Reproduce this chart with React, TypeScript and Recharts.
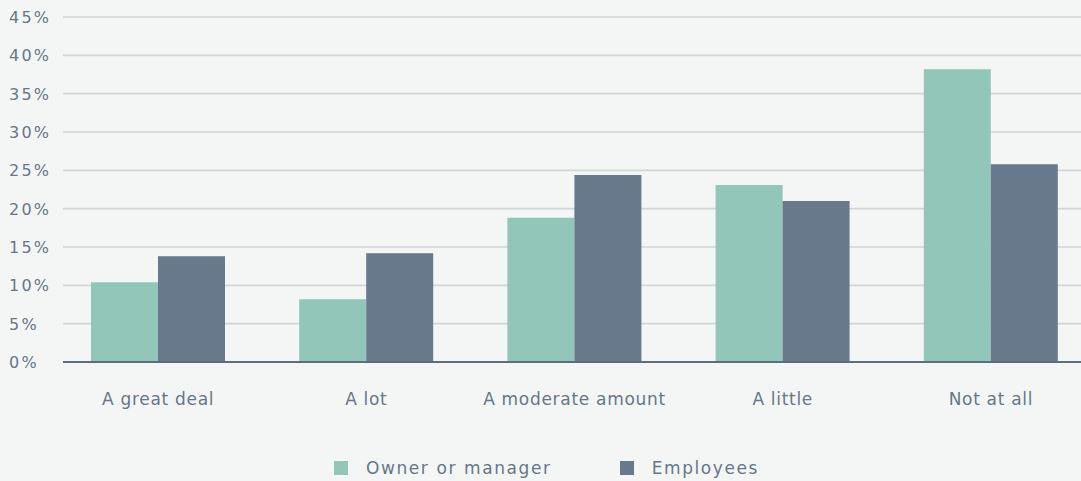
import React from "react";
import {
  BarChart,
  Bar,
  XAxis,
  YAxis,
  CartesianGrid,
  Legend,
} from "recharts";

const categories = [
  "A great deal",
  "A lot",
  "A moderate amount",
  "A little",
  "Not at all",
];
const ownerValues = [10.4, 8.2, 18.8, 23.1, 38.2];
const employeeValues = [13.8, 14.2, 24.4, 21.0, 25.8];
const yTicks = [0, 5, 10, 15, 20, 25, 30, 35, 40, 45];

const data = categories.map((name, i) => ({
  name,
  owner: ownerValues[i],
  employees: employeeValues[i],
}));

const FONT = "'DejaVu Sans', 'Noto Sans', sans-serif";
const TEXT = "#667789";
const GREEN = "#92c6b8";
const SLATE = "#67798a";

const YTick = (props: any) => {
  const { y, payload } = props;
  return (
    <text
      x={9}
      y={y + 6}
      textAnchor="start"
      fill={TEXT}
      fontFamily={FONT}
      fontSize={16}
      letterSpacing={2.2}>
      {payload.value}%
    </text>
  );
};

const XTick = (props: any) => {
  const { x, y, payload } = props;
  return (
    <text
      x={x}
      y={y + 41}
      textAnchor="middle"
      fill={TEXT}
      fontFamily={FONT}
      fontSize={17}
      letterSpacing={0.7}>
      {payload.value}
    </text>
  );
};

const LegendBox = () => {
  const items = [
    { label: "Owner or manager", color: GREEN },
    { label: "Employees", color: SLATE },
  ];
  return (
    <div
      style={{
        display: "flex",
        justifyContent: "center",
        alignItems: "center",
        height: 26,
        paddingLeft: 12,
        fontFamily: FONT,
        fontSize: 17,
        letterSpacing: 1.6,
        color: TEXT,
      }}>
      {items.map((it, i) => (
        <div
          key={i}
          style={{
            display: "flex",
            alignItems: "center",
            marginLeft: i === 0 ? 0 : 68,
          }}>
          <span
            style={{
              display: "inline-block",
              width: 14,
              height: 14,
              background: it.color,
              marginRight: 18,
            }}
          />
          {it.label}
        </div>
      ))}
    </div>
  );
};

export default function App() {
  return (
    <div
      style={{
        position: "fixed",
        top: 0,
        left: 0,
        width: 1081,
        height: 481,
        background: "#f4f6f5",
      }}>
      <BarChart
        width={1081}
        height={481}
        data={data}
        margin={{ top: 17, right: 0, bottom: 0, left: 0 }}
        barGap={0}
        barSize={67}>
        <CartesianGrid
          vertical={false}
          stroke="#d1d5d9"
          strokeWidth={1.6}
        />
        <XAxis
          dataKey="name"
          height={93}
          padding={{ left: -9, right: -14 }}
          tickLine={false}
          tickSize={0}
          axisLine={{ stroke: "#5e6d7b", strokeWidth: 2 }}
          tick={<XTick />}
          interval={0}
        />
        <YAxis
          width={63}
          domain={[0, 45]}
          ticks={yTicks}
          axisLine={false}
          tickLine={false}
          tick={<YTick />}
        />
        <Legend verticalAlign="bottom" content={<LegendBox />} />
        <Bar dataKey="owner" fill={GREEN} isAnimationActive={false} />
        <Bar dataKey="employees" fill={SLATE} isAnimationActive={false} />
      </BarChart>
    </div>
  );
}
